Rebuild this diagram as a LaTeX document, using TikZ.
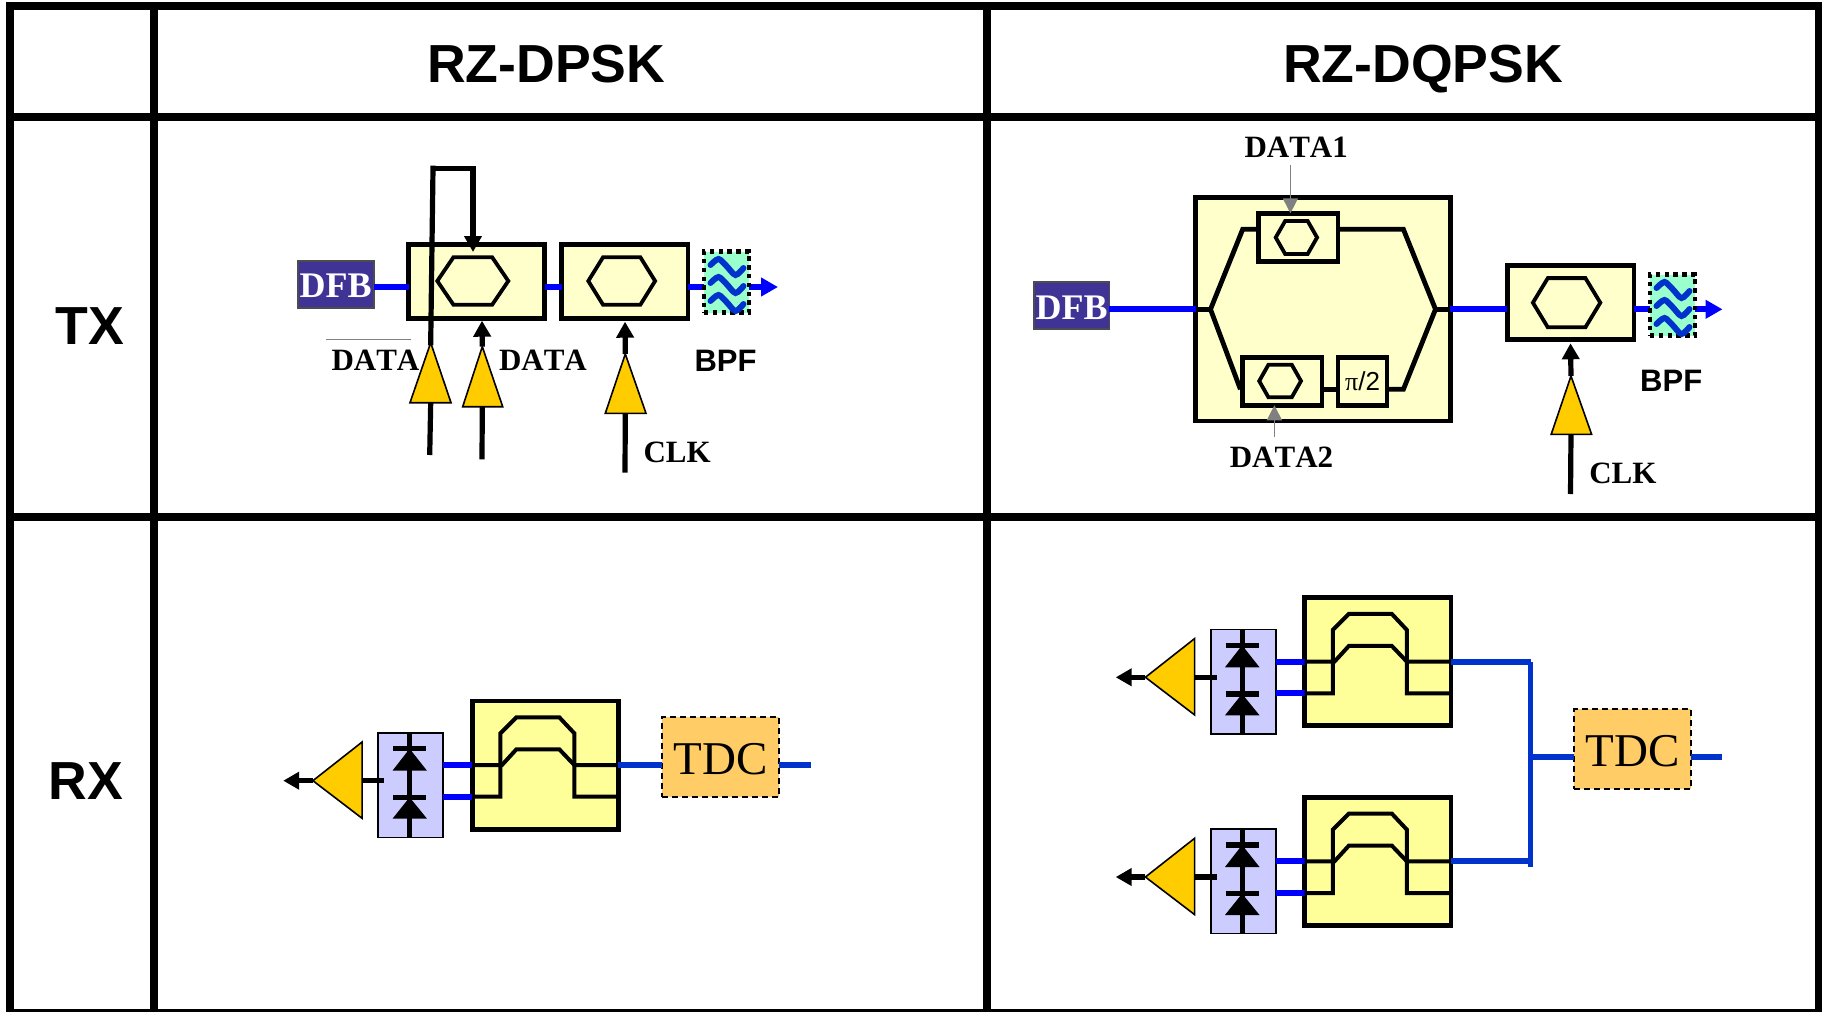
\documentclass[tikz,border=0pt]{standalone}
\usepackage{fontspec}
\setmainfont{Liberation Serif}[Kerning=Off]
\setsansfont{Liberation Sans}
\usetikzlibrary{arrows.meta,calc}
\definecolor{dfbc}{HTML}{3F3396}
\definecolor{mzc}{HTML}{FFFFCC}
\definecolor{dic}{HTML}{FFFF99}
\definecolor{pdc}{HTML}{CCCCFF}
\definecolor{ampc}{HTML}{FFCC00}
\definecolor{tdcc}{HTML}{FFCC66}
\definecolor{filc}{HTML}{99FFCC}
\definecolor{blueA}{HTML}{0000FF}
\definecolor{blueB}{HTML}{0033CC}
\definecolor{greyA}{HTML}{808080}
\tikzset{
  gridline/.style={line width=4pt,black},
  size/.style 2 args={minimum width=#1*0.5pt,minimum height=#2*0.5pt,inner sep=0pt,outer sep=0pt,text height=0pt,text depth=0pt},
  mzbox/.style={draw=black,fill=mzc,line width=2.4pt},
  dibox/.style={draw=black,fill=dic,line width=2.4pt},
  inbox/.style={draw=black,fill=mzc,line width=2.2pt},
  dfbbox/.style={draw=black!70,fill=dfbc,line width=0.8pt,text=white,font=\fontsize{18}{20}\selectfont\bfseries},
  pdbox/.style={draw=black,fill=pdc,line width=0.8pt},
  tdcbox/.style={draw=black,fill=tdcc,line width=1pt,dash pattern=on 3pt off 2pt,font=\fontsize{23.5}{26}\selectfont},
  filbox/.style={draw=black,fill=filc,line width=2.3pt,dash pattern=on 2.2pt off 2.2pt},
  opticA/.style={blueA,line width=3pt},
  opticB/.style={blueB,line width=3pt},
  opticout/.style={blueA,line width=3pt,-{Triangle[length=8.5pt,width=9pt]}},
  wire/.style={black,line width=2.6pt},
  elec/.style={black,line width=2.6pt,-{Triangle[length=8pt,width=8.5pt]}},
  greyin/.style={greyA,line width=0.8pt,-{Triangle[length=7.5pt,width=7.5pt]}},
  hexline/.style={black,line width=1.9pt,line join=miter},
  ampshape/.style={fill=ampc,draw=black,line width=0.8pt,line join=miter},
  thin wire/.style={black,line width=2pt},
  serlabel/.style={anchor=base west,inner sep=0pt,outer sep=0pt,font=\fontsize{15.5}{18}\selectfont\bfseries},
  bpflabel/.style={anchor=base west,inner sep=0pt,outer sep=0pt,font=\fontsize{15.5}{18}\selectfont\sffamily\bfseries},
  headlabel/.style={anchor=base west,inner sep=0pt,outer sep=0pt,font=\fontsize{26.8}{30}\selectfont\sffamily\bfseries},
}
% centre x, centre y, half width, half of flat side, half height
\newcommand{\hexag}[5]{\draw[hexline] ($(#1,#2)+(-#3,0)$) -- ($(#1,#2)+(-#4,-#5)$) -- ($(#1,#2)+(#4,-#5)$) -- ($(#1,#2)+(#3,0)$) -- ($(#1,#2)+(#4,#5)$) -- ($(#1,#2)+(-#4,#5)$) -- cycle;}
% name, centre x, centre y
\newcommand{\filt}[3]{%
  \node[filbox,size={45}{61}] (#1) at (#2,#3) {};
  \foreach \dy in {-2,16,34}{
    \draw[blueB,line width=3pt,line cap=round] plot[smooth] coordinates {($(#2,#3)+(-16,-15+\dy)$) ($(#2,#3)+(-8,-21+\dy)$) ($(#2,#3)+(0,-14+\dy)$) ($(#2,#3)+(9,-5+\dy)$) ($(#2,#3)+(17,-12+\dy)$)};
  }%
}
% name prefix, x shift, y shift
\newcommand{\rxunit}[3]{%
  \begin{scope}[shift={(#2,#3)}]
    \coordinate (#1pa) at (443.2,765);
    \coordinate (#1pb) at (443.2,796.7);
    \node[pdbox,size={65}{104.6}] (#1pd) at (410.7,785) {};
    \node[dibox,size={146.3}{128.2}] (#1mz) at (545.3,765) {};
    \draw[opticA] (#1pd.east |- #1pa) -- (#1mz.west |- #1pa);
    \draw[opticA] (#1pd.east |- #1pb) -- (#1mz.west |- #1pb);
    \draw[thin wire] (#1mz.west |- #1pb) -- (500.4,796.7) -- (500.4,733.3) -- (516.4,717.3) -- (559.3,717.3) -- (574.3,733.3) -- (574.3,796.7) -- (#1mz.east |- #1pb);
    \draw[thin wire] (#1mz.west |- #1pa) -- (502,765) -- (516.4,749.3) -- (559.3,749.3) -- (574.3,765) -- (#1mz.east |- #1pa);
    \coordinate (#1dt) at (409.6,732.7);
    \coordinate (#1db) at (409.6,837.3);
    \draw[wire] (#1dt) -- (#1db);
    \draw[black,line width=2.6pt] (393.2,748.7) -- (426.4,748.7);
    \fill[black] (409.6,748.7) -- (392.5,770.7) -- (427,770.7) -- cycle;
    \draw[black,line width=2.6pt] (393.2,797.3) -- (426.4,797.3);
    \fill[black] (409.6,797.3) -- (392.5,818.7) -- (427,818.7) -- cycle;
    \coordinate (#1aa) at (312.9,780.7);
    \coordinate (#1ab) at (362.1,780.7);
    \coordinate (#1ae) at (384.3,780.7);
    \coordinate (#1ao) at (283.2,780.7);
    \draw[wire] (#1ab) -- (#1ae);
    \draw[elec] (#1aa) -- (#1ao);
    \filldraw[ampshape] (#1aa) -- (362.1,742) -- (362.1,818.3) -- cycle;
  \end{scope}%
}
\begin{document}
\begin{tikzpicture}[x=0.5pt,y=-0.5pt]
\useasboundingbox (0,0) rectangle (1822,1012);
\fill[white] (0,0) rectangle (1822,1012);

% ---------- TX, RZ-DPSK
\coordinate (lvlL) at (0,287);
\coordinate (outL) at (778,287);
\node[dfbbox,size={76}{47.3}] (dfbL) at (335.7,284.35) {\raisebox{-6.6pt}{DFB}};
\node[mzbox,size={136}{74}] (mL1) at (476.5,281.5) {};
\node[mzbox,size={126.5}{74}] (mL2) at (624.75,281.5) {};
\draw[opticA] (dfbL.east |- lvlL) -- (mL1.west |- lvlL);
\draw[opticA] (mL1.east |- lvlL) -- (mL2.west |- lvlL);
\draw[opticout] (mL2.east |- lvlL) -- (outL);
\hexag{472.8}{281}{35.5}{19.4}{23.7}
\hexag{621.7}{281}{33.4}{18.7}{23.7}
\filt{filL}{726.5}{282}
\node[bpflabel] (bpfL) at (694.5,371.7) {BPF};
\node[serlabel] (dataLa) at (331.5,370) {DATA};
\node[serlabel] (dataLb) at (499,370) {DATA};
\node[serlabel] (clkL) at (643.5,462.3) {CLK};
\coordinate (ovA) at (325.7,339.3);
\coordinate (ovB) at (411,339.3);
\draw[greyA,line width=0.8pt] (ovA) -- (ovB);

\coordinate (a1t) at (430.7,342.7);
\coordinate (a1b) at (430.7,402.7);
\coordinate (a1i) at (429.7,455);
\coordinate (lpA) at (433,168.3);
\coordinate (lpB) at (473,168.3);
\coordinate (lpT) at (473,252);
\draw[wire] (a1i) -- (a1b);
\draw[wire,line cap=rect] (a1t) -- (lpA);
\draw[elec,line join=miter] (lpA) -- (lpB) -- (lpT);
\filldraw[ampshape] (a1t) -- ++(-20.7,60) -- ++(41,0) -- cycle;

\coordinate (a2t) at (482.3,346.7);
\coordinate (a2b) at (482.3,406.7);
\coordinate (a2i) at (482,459.3);
\coordinate (a2o) at (482,320.7);
\draw[wire] (a2i) -- (a2b);
\draw[elec] (a2t) -- (a2o);
\filldraw[ampshape] (a2t) -- ++(-19.6,60) -- ++(40,0) -- cycle;

\coordinate (a3t) at (625.3,354);
\coordinate (a3b) at (625.3,413.3);
\coordinate (a3i) at (625,472.7);
\coordinate (a3o) at (625,321.7);
\draw[wire] (a3i) -- (a3b);
\draw[elec] (a3t) -- (a3o);
\filldraw[ampshape] (a3t) -- ++(-20,59.3) -- ++(40.7,0) -- cycle;

% ---------- TX, RZ-DQPSK
\coordinate (lvlR) at (0,309.3);
\coordinate (outR) at (1722.5,309.3);
\node[dfbbox,size={75.7}{47.3}] (dfbR) at (1071.6,305.6) {\raisebox{-6.8pt}{DFB}};
\node[mzbox,size={254.6}{223.5}] (qbig) at (1323,309.25) {};
\node[mzbox,size={126.5}{74}] (mR) at (1570.7,302.3) {};
\draw[opticA] (dfbR.east |- lvlR) -- (qbig.west |- lvlR);
\draw[opticA] (qbig.east |- lvlR) -- (mR.west |- lvlR);
\draw[opticout] (mR.east |- lvlR) -- (outR);
\coordinate (sL) at (1210.5,309.3);
\coordinate (sR) at (1435.5,309.3);
\coordinate (cTL) at (1242.7,229.3);
\coordinate (cTR) at (1403.4,229.3);
\coordinate (cBL) at (1240.4,389.3);
\coordinate (cBR) at (1403.4,389.3);
\node[inbox,size={79.5}{48}] (qt) at (1298.2,237.3) {};
\node[inbox,size={79.5}{48}] (qb) at (1282.2,381.3) {};
\node[inbox,size={48.7}{48}] (qp) at (1362.6,381.3) {\raisebox{-4.35pt}{\fontsize{13}{15}\selectfont π\sffamily/2}};
\draw[wire,line width=2.4pt] (qbig.west |- sL) -- (sL);
\draw[wire,line width=2.4pt] (qbig.east |- sR) -- (sR);
\draw[wire,line width=2.4pt,line join=miter] (qt.west |- cTL) -- (cTL) -- (sL) -- (cBL);
\draw[wire,line width=2.4pt,line join=miter] (qt.east |- cTR) -- (cTR) -- (sR) -- (cBR) -- (qp.east |- cBR);
\draw[wire,line width=2.4pt] (qb.east |- cBR) -- (qp.west |- cBR);
\hexag{1296.4}{237.5}{20.7}{11.25}{16.5}
\hexag{1280.1}{381}{20.9}{11.7}{16.2}
\hexag{1566.6}{302.7}{33.7}{18.8}{24.6}
\filt{filR}{1672.5}{305}
\node[bpflabel] (bpfR) at (1640.2,391.7) {BPF};
\node[serlabel] (clkR) at (1589.3,483.2) {CLK};
\node[serlabel] (d1) at (1244.5,157.5) {DATA1};
\node[serlabel] (d2) at (1229.8,467.5) {DATA2};
\coordinate (g1) at (1290.4,165);
\coordinate (g2) at (1274.4,437.3);
\draw[greyin] (g1) -- (qt.north -| g1);
\draw[greyin] (g2) -- (qb.south -| g2);

\coordinate (a4t) at (1571,376);
\coordinate (a4b) at (1571,434.3);
\coordinate (a4i) at (1570.5,494);
\coordinate (a4o) at (1570.5,343.3);
\draw[wire] (a4i) -- (a4b);
\draw[elec] (a4t) -- (a4o);
\filldraw[ampshape] (a4t) -- ++(-19.8,58.3) -- ++(40.4,0) -- cycle;

% ---------- RX, RZ-DPSK
\rxunit{u}{0}{0}
\node[tdcbox,size={117}{80}] (tdcL) at (720.5,756.7) {\raisebox{-8.8pt}{TDC}};
\coordinate (tL) at (811,765);
\draw[opticB] (umz.east |- upa) -- (tdcL.west |- upa);
\draw[opticB] (tdcL.east |- upa) -- (tL);

% ---------- RX, RZ-DQPSK
\rxunit{v}{832.5}{-103.4}
\rxunit{w}{832.5}{96.3}
\node[tdcbox,size={116.7}{80}] (tdcR) at (1632.7,749.3) {\raisebox{-8.7pt}{TDC}};
\coordinate (busT) at (1530.6,661.6);
\coordinate (busB) at (1530.6,861.3);
\coordinate (busE) at (1530.6,866.7);
\coordinate (busM) at (1530.6,757.3);
\coordinate (tR) at (1722.4,757.3);
\draw[opticB,line width=2.7pt] (busT) -- (busE);
\draw[opticB] (vmz.east |- vpa) -- (busT);
\draw[opticB] (wmz.east |- wpa) -- (busB);
\draw[opticB] (busM) -- (tdcR.west |- busM);
\draw[opticB] (tdcR.east |- busM) -- (tR);

% ---------- Table
\draw[gridline] (10,1.5) -- (10,1012);
\draw[gridline] (154.3,1.5) -- (154.3,1012);
\draw[gridline] (986.5,1.5) -- (986.5,1012);
\draw[gridline] (1819,1.5) -- (1819,1012);
\draw[gridline] (6,5.5) -- (1822,5.5);
\draw[gridline] (6,117) -- (1822,117);
\draw[gridline] (6,517) -- (1822,517);
\draw[gridline] (6,1013) -- (1822,1013);
\node[headlabel] (h1) at (427,82.3) {RZ-DPSK};
\node[headlabel] (h2) at (1283,82.3) {RZ-DQPSK};
\node[headlabel] (h3) at (55.5,344) {TX};
\node[headlabel] (h4) at (48.5,799.6) {RX};
\end{tikzpicture}
\end{document}
